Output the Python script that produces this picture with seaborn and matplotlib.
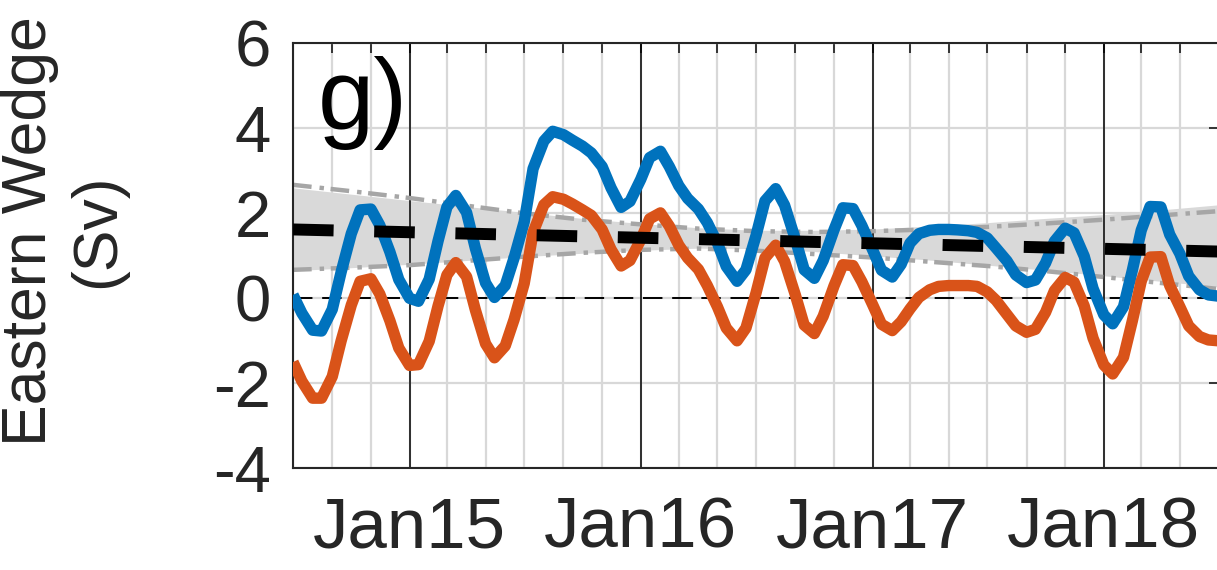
import numpy as np
import pandas as pd
import matplotlib
matplotlib.use("Agg")
import matplotlib.pyplot as plt
import matplotlib.dates as mdates
from matplotlib.ticker import FuncFormatter, FixedLocator
import seaborn as sns

# ---------------- data ----------------
# semi-monthly samples, 1 Jul 2014 .. 1 Jul 2018
blue_vals = [0.08, -0.35, -0.75, -0.77, -0.26, 0.62, 1.52, 2.08, 2.10, 1.72,
             1.09, 0.44, 0.00, -0.07, 0.45, 1.35, 2.15, 2.42, 2.02, 1.17,
             0.36, 0.02, 0.30, 0.95, 1.80, 3.05, 3.70, 3.93, 3.85, 3.72,
             3.58, 3.42, 3.10, 2.60, 2.14, 2.28, 2.80, 3.31, 3.46, 3.10,
             2.65, 2.35, 2.10, 1.78, 1.30, 0.75, 0.40, 0.67, 1.48, 2.29,
             2.58, 2.19, 1.39, 0.67, 0.47, 0.89, 1.61, 2.13, 2.11, 1.71,
             1.14, 0.66, 0.50, 0.80, 1.30, 1.52, 1.60, 1.62, 1.62, 1.61,
             1.59, 1.55, 1.42, 1.18, 0.88, 0.55, 0.37, 0.43, 0.83, 1.34,
             1.65, 1.54, 0.99, 0.23, -0.39, -0.60, -0.20, 0.66, 1.60, 2.16,
             2.15, 1.50, 1.05, 0.52, 0.20, 0.08, 0.05]
orange_vals = [-1.50, -1.95, -2.35, -2.35, -1.84, -1.00, -0.16, 0.40, 0.46, 0.10,
               -0.53, -1.17, -1.58, -1.56, -1.01, -0.18, 0.55, 0.84, 0.51, -0.28,
               -1.07, -1.40, -1.12, -0.50, 0.35, 1.55, 2.20, 2.39, 2.33, 2.22,
               2.08, 1.95, 1.62, 1.15, 0.76, 0.89, 1.38, 1.87, 2.01, 1.70,
               1.25, 0.95, 0.68, 0.30, -0.20, -0.70, -1.00, -0.70, 0.13, 0.95,
               1.25, 0.87, 0.08, -0.63, -0.83, -0.42, 0.29, 0.79, 0.77, 0.39,
               -0.15, -0.61, -0.76, -0.55, -0.25, 0.02, 0.20, 0.28, 0.30, 0.30,
               0.30, 0.28, 0.15, -0.05, -0.38, -0.65, -0.80, -0.73, -0.33, 0.18,
               0.49, 0.38, -0.18, -0.94, -1.57, -1.78, -1.39, -0.53, 0.40, 0.97,
               0.98, 0.30, -0.20, -0.65, -0.90, -0.98, -1.00]

# quarterly samples of the grey uncertainty band and its dash-dot bounds
band_hi = [2.60, 2.45, 2.30, 2.16, 2.02, 1.88, 1.76, 1.66, 1.60, 1.60, 1.63,
           1.70, 1.78, 1.88, 1.97, 2.08, 2.20]
band_lo = [0.65, 0.72, 0.80, 0.89, 0.98, 1.06, 1.13, 1.18, 1.17, 1.10, 1.00,
           0.90, 0.78, 0.66, 0.53, 0.40, 0.27]
dd_hi = [2.67, 2.52, 2.36, 2.18, 2.00, 1.85, 1.74, 1.64, 1.58, 1.56, 1.58,
         1.62, 1.68, 1.76, 1.85, 1.95, 2.05]
dd_lo = [0.67, 0.72, 0.78, 0.88, 0.98, 1.07, 1.14, 1.17, 1.12, 1.04, 0.96,
         0.86, 0.76, 0.64, 0.50, 0.36, 0.22]

trend_dates = ["2014-07-01", "2018-07-01"]
trend_vals = [1.62, 1.10]

y_ticks = [-4, -2, 0, 2, 4, 6]
y_ticklabels = ["-4", "-2", "0", "2", "4", "6"]
year_lines = ["2015-01-01", "2016-01-01", "2017-01-01", "2018-01-01"]
panel_label = "g)"
y_label = "Eastern Wedge\n(Sv)"

dates = pd.date_range("2014-07-01", "2018-07-01", freq="SMS")
qdates = pd.date_range("2014-07-01", "2018-07-01", freq="QS")

df = pd.DataFrame({
    "date": list(dates) * 2,
    "value": blue_vals + orange_vals,
    "series": ["blue"] * len(dates) + ["orange"] * len(dates),
})

# ---------------- style ----------------
sns.set_style("white")
plt.rcParams["font.family"] = ["Liberation Sans", "DejaVu Sans"]
plt.rcParams["axes.unicode_minus"] = False

BLUE = "#0072BD"
ORANGE = "#D95319"

fig = plt.figure(figsize=(12.17, 5.70), dpi=100)
ax = fig.add_axes([293 / 1217, 101.7 / 570, 925.5 / 1217, 425 / 570])

# band
ax.fill_between(qdates, band_lo, band_hi, color="#d9d9d9", lw=0, zorder=1)
ax.plot(qdates, dd_hi, color="#a6a6a6", lw=3.2, dashes=(4.2, 1.8, 1.0, 1.5),
        zorder=2, solid_capstyle="butt")
ax.plot(qdates, dd_lo, color="#a6a6a6", lw=3.2, dashes=(4.2, 1.8, 1.0, 1.5),
        zorder=2, solid_capstyle="butt")

# zero line
ax.axhline(0, color="black", lw=1.4, dashes=(10, 5), zorder=2.5)

# curves
sns.lineplot(data=df, x="date", y="value", hue="series",
             palette={"blue": BLUE, "orange": ORANGE}, linewidth=8.2,
             legend=False, ax=ax, zorder=3)
for ln in ax.lines[-2:]:
    ln.set_solid_capstyle("butt")
    ln.set_solid_joinstyle("round")

# trend
ax.plot(pd.to_datetime(trend_dates), trend_vals, color="black", lw=8.6,
        dashes=(3.4, 3.4), zorder=4)

# year lines
for d in year_lines:
    ax.axvline(pd.Timestamp(d), color="black", lw=1.1, zorder=1.5)

ax.set_xlim(pd.Timestamp("2014-07-01"), pd.Timestamp("2018-07-01"))
ax.set_ylim(-4, 6)
ax.xaxis.set_major_locator(mdates.MonthLocator(bymonth=(1, 3, 5, 7, 9, 11)))
ax.xaxis.set_major_formatter(FuncFormatter(
    lambda v, p: ("Jan%02d" % (mdates.num2date(v).year % 100))
    if mdates.num2date(v).month == 1 else ""))
ax.yaxis.set_major_locator(FixedLocator(y_ticks))
ax.set_yticklabels(y_ticklabels)

ax.grid(True, color="#d8d8d8", lw=1.6, zorder=0)
ax.set_axisbelow(True)
ax.tick_params(axis="both", direction="in", length=7, width=1.3,
               colors="#262626", top=True, right=True)
ax.tick_params(axis="y", labelsize=47, pad=16)
ax.tick_params(axis="x", labelsize=51, pad=20)
for sp in ax.spines.values():
    sp.set_color("#262626")
    sp.set_linewidth(1.5)
ax.set_xlabel("")
ax.set_ylabel("")

ax.text(0.027, 0.798, panel_label, transform=ax.transAxes, fontsize=73,
        va="baseline", ha="left", color="black", zorder=5)

fig.text(0.052, 0.595, y_label, rotation=90, ha="center", va="center",
         multialignment="center", fontsize=45, color="#262626")

fig.savefig("out.png", dpi=100, facecolor="white")
